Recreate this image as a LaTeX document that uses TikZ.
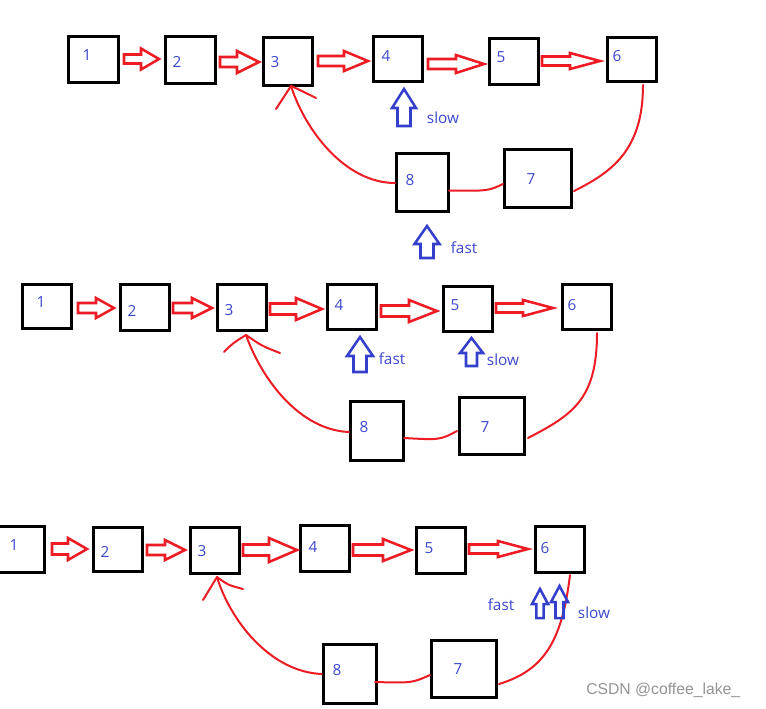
\documentclass[tikz,border=0pt]{standalone}
\usepackage{fontspec}
\setmainfont{Open Sans}
\newfontfamily\wmfont{Liberation Sans}
\definecolor{pred}{RGB}{237,28,36}
\definecolor{pblue}{RGB}{52,64,204}
\definecolor{tblue}{RGB}{60,72,205}
\tikzset{
  boxst/.style={draw=black, line width=2.2pt, fill=white, inner sep=0pt},
  lbl/.style={text=tblue, font=\fontsize{11.5}{13}\selectfont, inner sep=0pt},
  rarrst/.style={draw=pred, line width=1.9pt, line join=miter},
  barrst/.style={draw=pblue, line width=1.9pt, line join=miter},
  linkst/.style={draw=pred, line width=1.5pt, line cap=round},
  wmst/.style={text=black!42, font=\wmfont\fontsize{11.8}{13}\selectfont, inner sep=0pt, anchor=west}
}
% box: name, x1, y1, x2, y2 (outer pixel edges)
\newcommand\bx[5]{\node[boxst, minimum width={(#4-#2-3)*0.75pt}, minimum height={(#5-#3-3)*0.75pt}] (#1) at ({(#2+#4)/2},{(#3+#5)/2}) {};}
% right block arrow: x1, x2, y, head half height, shaft half height, head length
\newcommand\rarr[6]{\draw[rarrst] (#1,#3-#5) -- (#2-#6,#3-#5) -- (#2-#6,#3-#4) -- (#2,#3) -- (#2-#6,#3+#4) -- (#2-#6,#3+#5) -- (#1,#3+#5) -- cycle;}
% up block arrow: xc, ytip, ybot, head half width, shaft half width, head length
\newcommand\uarr[6]{\draw[barrst] (#1,#2) -- (#1+#4,#2+#6) -- (#1+#5,#2+#6) -- (#1+#5,#3) -- (#1-#5,#3) -- (#1-#5,#2+#6) -- (#1-#4,#2+#6) -- cycle;}
\begin{document}
\begin{tikzpicture}[x=0.75pt,y=-0.75pt]
\useasboundingbox (0,0) rectangle (766,708);
\clip (0,0) rectangle (766,708);
\fill[white] (0,0) rectangle (766,708);

% ================= TOP ROW =================
\bx{t1}{67}{35}{120}{84}
\bx{t2}{164}{35}{217}{85}
\bx{t3}{262}{36}{314}{87}
\bx{t4}{372}{35}{424}{83}
\bx{t5}{488}{37}{540}{86}
\bx{t6}{606}{36}{658}{83}
\bx{t8}{395}{152}{450}{213}
\bx{t7}{503}{148}{573}{209}
\node[lbl] (tl1) at (87,55) {1};
\node[lbl] (tl2) at (177,62) {2};
\node[lbl] (tl3) at (275,62) {3};
\node[lbl] (tl4) at (386,56) {4};
\node[lbl] (tl5) at (501,57) {5};
\node[lbl] (tl6) at (617,56) {6};
\node[lbl] (tl8) at (410,180) {8};
\node[lbl] (tl7) at (531,179) {7};
\rarr{124}{159}{59}{10.5}{4.5}{18}
\rarr{220}{259}{62}{11}{5}{22}
\rarr{318}{368}{61}{10}{5}{24}
\rarr{428}{484}{64}{9}{5}{28}
\rarr{542}{600}{61}{8}{4.5}{30}
\uarr{404}{89}{126}{12}{6.5}{19}
\node[lbl] (tslow) at (443,118) {slow};
\uarr{427}{226}{258}{12.5}{6.5}{18}
\node[lbl] (tfast) at (464,248) {fast};
\coordinate (t6o) at (643,85);
\coordinate (t7i) at (574,191);
\coordinate (t7o) at (503,184);
\coordinate (t8i) at (449,190.5);
\coordinate (t8o) at (395,183);
\coordinate (t3i) at (291,86);
\draw[linkst] (t6o) .. controls (643,150) and (612,172) .. (t7i);
\draw[linkst] (t7o) .. controls (488,191) .. (t8i);
\draw[linkst] (t8o) .. controls (345,183) and (305,130) .. (t3i);
\draw[linkst] (t3i) -- (276,109);
\draw[linkst] (t3i) .. controls (300,90) .. (316,98);

% ================= MIDDLE ROW =================
\bx{m1}{21}{283}{73}{330}
\bx{m2}{119}{283}{171}{332}
\bx{m3}{216}{283}{268}{332}
\bx{m4}{326}{283}{378}{331}
\bx{m5}{442}{285}{494}{333}
\bx{m6}{561}{283}{613}{331}
\bx{m8}{349}{400}{405}{462}
\bx{m7}{458}{396}{526}{456}
\node[lbl] (ml1) at (41,302) {1};
\node[lbl] (ml2) at (132,311) {2};
\node[lbl] (ml3) at (229,310) {3};
\node[lbl] (ml4) at (339,305) {4};
\node[lbl] (ml5) at (455,305) {5};
\node[lbl] (ml6) at (572,305) {6};
\node[lbl] (ml8) at (364,427) {8};
\node[lbl] (ml7) at (485,427) {7};
\rarr{78}{114}{308}{10}{5}{18}
\rarr{173}{212}{308}{10}{5}{20}
\rarr{270}{322}{309}{11}{5.5}{26}
\rarr{381}{437}{311}{11}{5.5}{28}
\rarr{496}{553}{308}{8}{4.5}{30}
\uarr{360}{337}{372}{13}{6.5}{19}
\node[lbl] (mfast) at (392,359) {fast};
\uarr{471.5}{338}{366}{11.5}{5.5}{15}
\node[lbl] (mslow) at (503,360) {slow};
\coordinate (m6o) at (597,333);
\coordinate (m7i) at (528,438);
\coordinate (m7o) at (457,431);
\coordinate (m8i) at (404,438);
\coordinate (m8o) at (349,432);
\coordinate (m3i) at (246,335);
\draw[linkst] (m6o) .. controls (597,400) and (572,415) .. (m7i);
\draw[linkst] (m7o) .. controls (440,440) .. (m8i);
\draw[linkst] (m8o) .. controls (300,430) and (262,380) .. (m3i);
\draw[linkst] (m3i) .. controls (233,343) .. (224,352);
\draw[linkst] (m3i) .. controls (262,346) .. (280,353);

% ================= BOTTOM ROW =================
\bx{b1}{-5}{525}{46}{574}
\bx{b2}{92}{526}{144}{573}
\bx{b3}{189}{526}{241}{575}
\bx{b4}{299}{524}{351}{573}
\bx{b5}{415}{526}{467}{575}
\bx{b6}{534}{525}{586}{574}
\bx{b8}{322}{643}{378}{705}
\bx{b7}{430}{639}{498}{699}
\node[lbl] (bl1) at (14,545) {1};
\node[lbl] (bl2) at (105,552) {2};
\node[lbl] (bl3) at (202,551) {3};
\node[lbl] (bl4) at (313,547) {4};
\node[lbl] (bl5) at (429,548) {5};
\node[lbl] (bl6) at (545,548) {6};
\node[lbl] (bl8) at (337,670) {8};
\node[lbl] (bl7) at (458,669) {7};
\rarr{52}{87}{549}{11}{5.5}{19}
\rarr{147}{185}{550}{10}{5}{20}
\rarr{243}{297}{550}{12}{5.5}{28}
\rarr{353}{411}{550}{11}{5.5}{28}
\rarr{469}{528}{549}{8}{4.5}{30}
\coordinate (b6o) at (570,575);
\coordinate (b7i) at (499,684);
\coordinate (b7o) at (430,675);
\coordinate (b8i) at (375,682);
\coordinate (b8o) at (322,674);
\coordinate (b3i) at (217,577);
\draw[linkst] (b6o) .. controls (562,640) and (545,670) .. (b7i);
\uarr{540}{589}{618}{8}{3.7}{15}
\uarr{559.5}{586}{618}{8.5}{4}{16}
\node[lbl] (bfast) at (501,605) {fast};
\node[lbl] (bslow) at (594,613) {slow};
\draw[linkst] (b7o) .. controls (412,683) .. (b8i);
\draw[linkst] (b8o) .. controls (270,672) and (230,620) .. (b3i);
\draw[linkst] (b3i) -- (203,600);
\draw[linkst] (b3i) .. controls (228,585) .. (243,589);

\node[wmst] (wm) at (586,690) {CSDN @coffee\_lake\_};
\end{tikzpicture}
\end{document}
